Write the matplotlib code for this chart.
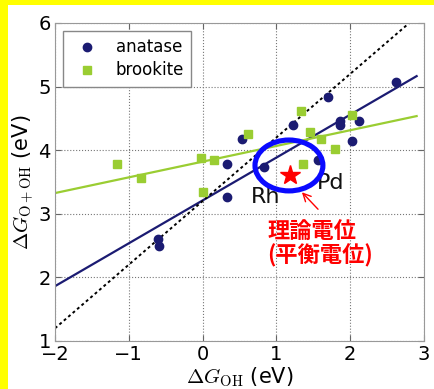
import matplotlib
matplotlib.use("Agg")
import matplotlib.pyplot as plt
from matplotlib.patches import Ellipse, Rectangle
import numpy as np

plt.rcParams['mathtext.fontset'] = 'cm'
plt.rcParams['font.family'] = ['DejaVu Sans']

# adsorption energies (eV)
anatase_x = [1.23, 1.86, 1.86, 2.12, 2.02, 0.53, 0.33, 0.33, 0.83, -0.61, -0.59, 1.70, 2.62, 1.57]
anatase_y = [4.40, 4.46, 4.39, 4.46, 4.14, 4.18, 3.78, 3.26, 3.73, 2.61, 2.49, 4.83, 5.07, 3.85]
brookite_x = [-1.16, -0.84, -0.02, 0.00, 0.16, 0.61, 1.36, 1.33, 1.46, 1.60, 1.79, 2.02]
brookite_y = [3.79, 3.56, 3.88, 3.35, 3.84, 4.25, 3.78, 4.61, 4.28, 4.17, 4.02, 4.55]

# linear fits: slope, intercept
anatase_fit = (0.674, 3.21)
brookite_fit = (0.247, 3.82)
fit_range = [-2.0, 2.9]
# scaling relation dG(O+OH) = dG(OH) + 3.2
scaling_fit = (1.0, 3.2)
scaling_range = [-2.0, 2.8]

# theoretical (equilibrium) potential point
star_x, star_y = 1.18, 3.61

xticks = [-2, -1, 0, 1, 2, 3]
yticks = [1, 2, 3, 4, 5, 6]

navy = '#1b1b72'
green = '#9acd32'

fig = plt.figure(figsize=(4.34, 3.89), dpi=100, facecolor='#ffff00')
fig.add_artist(Rectangle((7.5 / 434, 0), 1, 1 - 5.3 / 389, transform=fig.transFigure,
                         facecolor='white', edgecolor='none', zorder=-10))
ax = fig.add_axes([55 / 434, 1 - 341 / 389, 369 / 434, 318 / 389])

xr = np.array(fit_range)
ax.plot(xr, anatase_fit[0] * xr + anatase_fit[1], color=navy, lw=1.6, zorder=2)
ax.plot(xr, brookite_fit[0] * xr + brookite_fit[1], color=green, lw=1.6, zorder=2)
xs = np.array(scaling_range)
ax.plot(xs, scaling_fit[0] * xs + scaling_fit[1], color='black', lw=1.4,
        linestyle=(0, (1.5, 1.5)), zorder=2)

ax.plot(anatase_x, anatase_y, 'o', color=navy, markersize=6, mec=navy,
        label='anatase', zorder=3)
ax.plot(brookite_x, brookite_y, 's', color=green, markersize=6, mec=green,
        label='brookite', zorder=3)

ax.text(0.656, 3.17, 'Rh', fontsize=16, color='#111111', zorder=4)
ax.text(1.546, 3.385, 'Pd', fontsize=16, color='#111111', zorder=4)

ax.plot([star_x], [star_y], '*', color='red', mec='red', markersize=15, zorder=5)
ax.add_patch(Ellipse((1.17, 3.76), 0.92, 0.80, facecolor='none', edgecolor='#0a0aff',
                     lw=3.7, zorder=6))

ax.annotate('', xy=(1.32, 3.37), xytext=(1.59, 3.04),
            arrowprops=dict(arrowstyle='->', color='red', lw=1.0, mutation_scale=14),
            zorder=6)
ax.text(0.873, 2.52, '理論電位\n(平衡電位)', fontsize=16, fontweight='bold', color='red',
        family=['Noto Sans CJK JP', 'DejaVu Sans'], ha='left', va='center',
        linespacing=1.0, zorder=6)

ax.set_xlim(-2, 3)
ax.set_ylim(1, 6)
ax.set_xticks(xticks)
ax.set_yticks(yticks)
ax.set_xticklabels([f'{t}'.replace('-', '\u2212') for t in xticks])
ax.tick_params(direction='in', top=True, right=True, labelsize=14, length=4,
               color='#666666', pad=3)
ax.grid(True, linestyle=':', color='#777777', lw=0.8)
for s in ax.spines.values():
    s.set_color('#999999')

ax.set_xlabel(r'$\Delta G_{\mathrm{OH}}$ (eV)', fontsize=15, labelpad=1)
ax.set_ylabel(r'$\Delta G_{\mathrm{O+OH}}$ (eV)', fontsize=15, labelpad=2)

leg = ax.legend(loc='upper left', bbox_to_anchor=(0.022, 0.975), borderaxespad=0,
                numpoints=1, fontsize=12, fancybox=False, framealpha=1,
                edgecolor='#888888', borderpad=0.45, labelspacing=0.3,
                handlelength=2.0, handletextpad=0.7)
leg.get_frame().set_linewidth(1.0)

fig.savefig('out.png', dpi=100, facecolor=fig.get_facecolor())
